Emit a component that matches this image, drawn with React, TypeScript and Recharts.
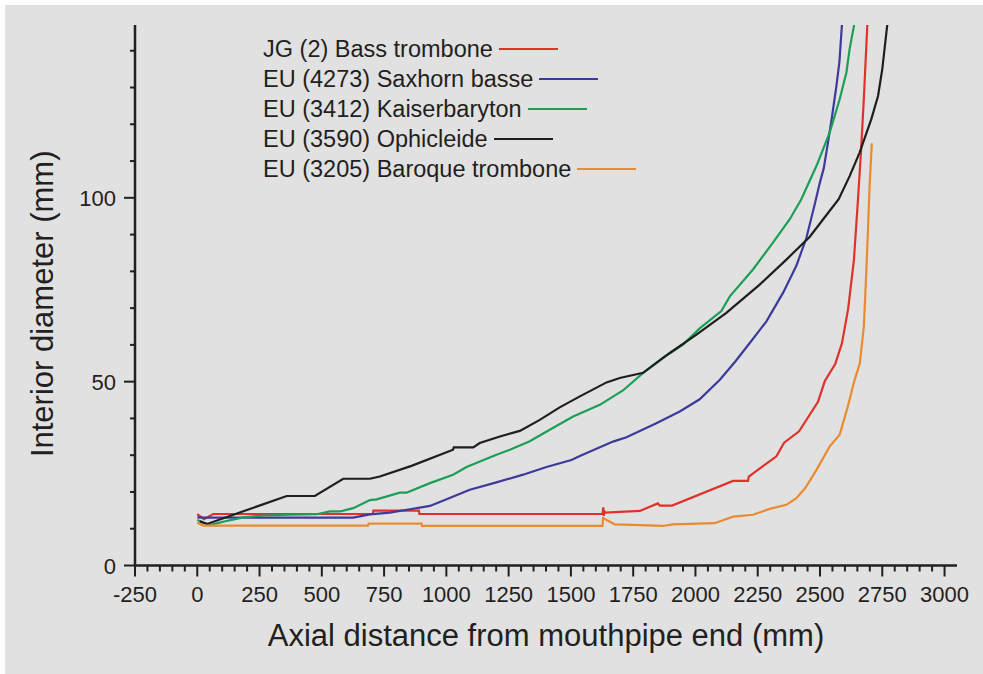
import { LineChart, Line, XAxis, YAxis, Legend } from 'recharts'

const FONT = "'Liberation Sans', Arial, Helvetica, sans-serif"
const INK = '#231f20'
const PANEL = '#e1e1e1'

// axial distance from mouthpipe end (mm) / interior diameter (mm)
const bassTromboneX = [0, 27, 64, 705, 707, 890, 892, 1627, 1630, 1632, 1634, 1638, 1777, 1849, 1857, 1906, 2151, 2211, 2214, 2325, 2356, 2416, 2492, 2519, 2561, 2588, 2613, 2636, 2650, 2665, 2676, 2690]
const bassTromboneY = [14.0, 12.6, 14.0, 14.0, 14.9, 14.9, 14.0, 14.0, 15.8, 13.5, 14.8, 14.4, 14.85, 16.9, 16.3, 16.3, 23.0, 23.0, 24.2, 29.7, 33.4, 36.5, 44.5, 50.1, 54.8, 60.4, 69.8, 83, 97, 113, 127, 147]

const saxhornX = [0, 20, 626, 693, 773, 854, 934, 1001, 1094, 1201, 1308, 1402, 1502, 1536, 1669, 1723, 1843, 1937, 2017, 2098, 2160, 2218, 2285, 2352, 2405, 2445, 2478, 2499, 2515, 2532, 2548, 2565, 2578, 2588]
const saxhornY = [13.1, 13.0, 13.0, 13.9, 14.4, 15.3, 16.2, 18.0, 20.6, 22.6, 24.7, 26.8, 28.7, 29.8, 33.7, 34.9, 38.7, 41.9, 45.2, 50.5, 55.5, 60.5, 66.4, 74.2, 81.5, 89, 98, 104, 108, 115, 122, 130, 137, 147]

const kaiserbarytonX = [0, 31, 51, 104, 185, 265, 372, 479, 533, 573, 626, 693, 720, 813, 840, 934, 1027, 1081, 1201, 1255, 1335, 1415, 1509, 1616, 1709, 1790, 1870, 1950, 2017, 2104, 2138, 2231, 2311, 2378, 2425, 2486, 2539, 2579, 2606, 2619, 2637]
const kaiserbarytonY = [12.4, 11.5, 11.0, 11.9, 13.1, 13.6, 13.8, 13.95, 14.7, 14.7, 15.6, 17.8, 18.0, 19.8, 19.8, 22.4, 24.7, 26.8, 30.1, 31.5, 33.8, 36.9, 40.5, 43.7, 47.6, 52.4, 56.5, 60.1, 64.5, 69.2, 73.2, 80.5, 87.8, 94.1, 99.6, 108.7, 117.8, 126.8, 134.1, 140.5, 147]

const ophicleideX = [10, 40, 359, 472, 586, 693, 733, 860, 1027, 1030, 1108, 1134, 1215, 1295, 1375, 1455, 1536, 1643, 1696, 1790, 1897, 2004, 2124, 2258, 2365, 2459, 2512, 2575, 2619, 2659, 2706, 2733, 2750, 2770]
const ophicleideY = [12.0, 11.3, 18.9, 18.9, 23.6, 23.6, 24.2, 27.1, 31.5, 32.1, 32.1, 33.3, 35.1, 36.6, 39.6, 43.0, 46.0, 49.8, 51.0, 52.4, 57.8, 62.8, 68.7, 76.4, 83.2, 89.4, 94.1, 99.6, 105.9, 112.3, 121.4, 127.7, 135.0, 147]

const baroqueX = [0, 24, 686, 688, 900, 902, 1627, 1629, 1676, 1777, 1870, 1909, 2077, 2151, 2231, 2298, 2365, 2405, 2440, 2486, 2539, 2579, 2612, 2639, 2660, 2676, 2686, 2693, 2699, 2708]
const baroqueY = [11.6, 10.85, 10.85, 11.4, 11.4, 10.75, 10.75, 12.9, 11.2, 11.0, 10.75, 11.2, 11.5, 13.3, 13.8, 15.4, 16.5, 18.3, 21.0, 26.0, 32.4, 35.6, 43.3, 50.5, 55, 65, 80, 92, 103, 114.8]

const xTicks = [-250, -200, -150, -100, -50, 0, 50, 100, 150, 200, 250, 300, 350, 400, 450, 500, 550, 600, 650, 700, 750, 800, 850, 900, 950, 1000, 1050, 1100, 1150, 1200, 1250, 1300, 1350, 1400, 1450, 1500, 1550, 1600, 1650, 1700, 1750, 1800, 1850, 1900, 1950, 2000, 2050, 2100, 2150, 2200, 2250, 2300, 2350, 2400, 2450, 2500, 2550, 2600, 2650, 2700, 2750, 2800, 2850, 2900, 2950, 3000]
const yTicks = [0, 10, 20, 30, 40, 50, 60, 70, 80, 90, 100, 110, 120, 130, 140]

const toPoints = (xs: number[], ys: number[]) => xs.map((x, i) => ({ x, y: ys[i] }))

const series = [
  { name: 'JG (2) Bass trombone', color: '#e0312b', data: toPoints(bassTromboneX, bassTromboneY) },
  { name: 'EU (4273) Saxhorn basse', color: '#3c3a9a', data: toPoints(saxhornX, saxhornY) },
  { name: 'EU (3412) Kaiserbaryton', color: '#1b9e55', data: toPoints(kaiserbarytonX, kaiserbarytonY) },
  { name: 'EU (3590) Ophicleide', color: '#1e1e1e', data: toPoints(ophicleideX, ophicleideY) },
  { name: 'EU (3205) Baroque trombone', color: '#e98b2f', data: toPoints(baroqueX, baroqueY) },
]

function XTick({ x, y, payload }: any) {
  const major = payload.value % 250 === 0
  return (
    <g>
      <line x1={x} x2={x} y1={y} y2={y + (major ? 11 : 6)} stroke={INK} strokeWidth={2} />
      {major && (
        <text x={x} y={y + 36.5} textAnchor="middle" fontSize={22} fill={INK} fontFamily={FONT}>
          {payload.value}
        </text>
      )}
    </g>
  )
}

function YTick({ x, y, payload }: any) {
  const major = payload.value % 50 === 0
  return (
    <g>
      <line x1={x - (major ? 11 : 5)} x2={x} y1={y} y2={y} stroke={INK} strokeWidth={2} />
      {major && (
        <text x={x - 19} y={y + 8} textAnchor="end" fontSize={22} fill={INK} fontFamily={FONT}>
          {payload.value}
        </text>
      )}
    </g>
  )
}

// legend in the same order as the series list (recharts sorts its payload by name)
function LegendBox() {
  return (
    <div style={{ fontFamily: FONT, fontSize: 23.5, color: INK, lineHeight: '30px' }}>
      {series.map((s) => (
        <div key={s.name} style={{ display: 'flex', alignItems: 'center', height: 30, whiteSpace: 'nowrap' }}>
          <span>{s.name}</span>
          <span style={{ display: 'inline-block', width: 59, height: 2, background: s.color, marginLeft: 6 }} />
        </div>
      ))}
    </div>
  )
}

export default function App() {
  return (
    <div style={{ position: 'absolute', left: 0, top: 0, width: 983, height: 674, background: '#fff' }}>
      <div style={{ position: 'absolute', left: 5, top: 5, right: 0, bottom: 0, background: PANEL }} />
      <div style={{ position: 'absolute', left: 0, top: 0 }}>
        <LineChart width={983} height={674} margin={{ top: 25, right: 26, left: 75, bottom: 78.5 }}>
          <XAxis
            type="number"
            dataKey="x"
            domain={[-250, 3050]}
            ticks={xTicks}
            interval={0}
            tickSize={0}
            tickMargin={0}
            height={30}
            allowDataOverflow
            axisLine={{ stroke: INK, strokeWidth: 2.5 }}
            tick={XTick}
          />
          <YAxis
            type="number"
            dataKey="y"
            domain={[0, 147]}
            ticks={yTicks}
            interval={0}
            tickSize={0}
            tickMargin={0}
            width={60}
            allowDataOverflow
            axisLine={{ stroke: INK, strokeWidth: 2.5 }}
            tick={YTick}
          />
          <Legend
            layout="vertical"
            align="center"
            verticalAlign="middle"
            content={LegendBox}
            wrapperStyle={{ left: 263, top: 34, width: 'auto', height: 'auto' }}
          />
          {series.map((s) => (
            <Line
              key={s.name}
              data={s.data}
              dataKey="y"
              name={s.name}
              type="linear"
              stroke={s.color}
              strokeWidth={2.2}
              dot={false}
              activeDot={false}
              isAnimationActive={false}
            />
          ))}
        </LineChart>
      </div>
      <div
        style={{
          position: 'absolute', left: 246, top: 618, width: 600, textAlign: 'center',
          fontFamily: FONT, fontSize: 31, color: INK, whiteSpace: 'nowrap',
        }}
      >
        Axial distance from mouthpipe end (mm)
      </div>
      <div
        style={{
          position: 'absolute', left: -157.4, top: 286.2, width: 400, height: 35.6, textAlign: 'center',
          fontFamily: FONT, fontSize: 31, color: INK, whiteSpace: 'nowrap', transform: 'rotate(-90deg)',
        }}
      >
        Interior diameter (mm)
      </div>
    </div>
  )
}
